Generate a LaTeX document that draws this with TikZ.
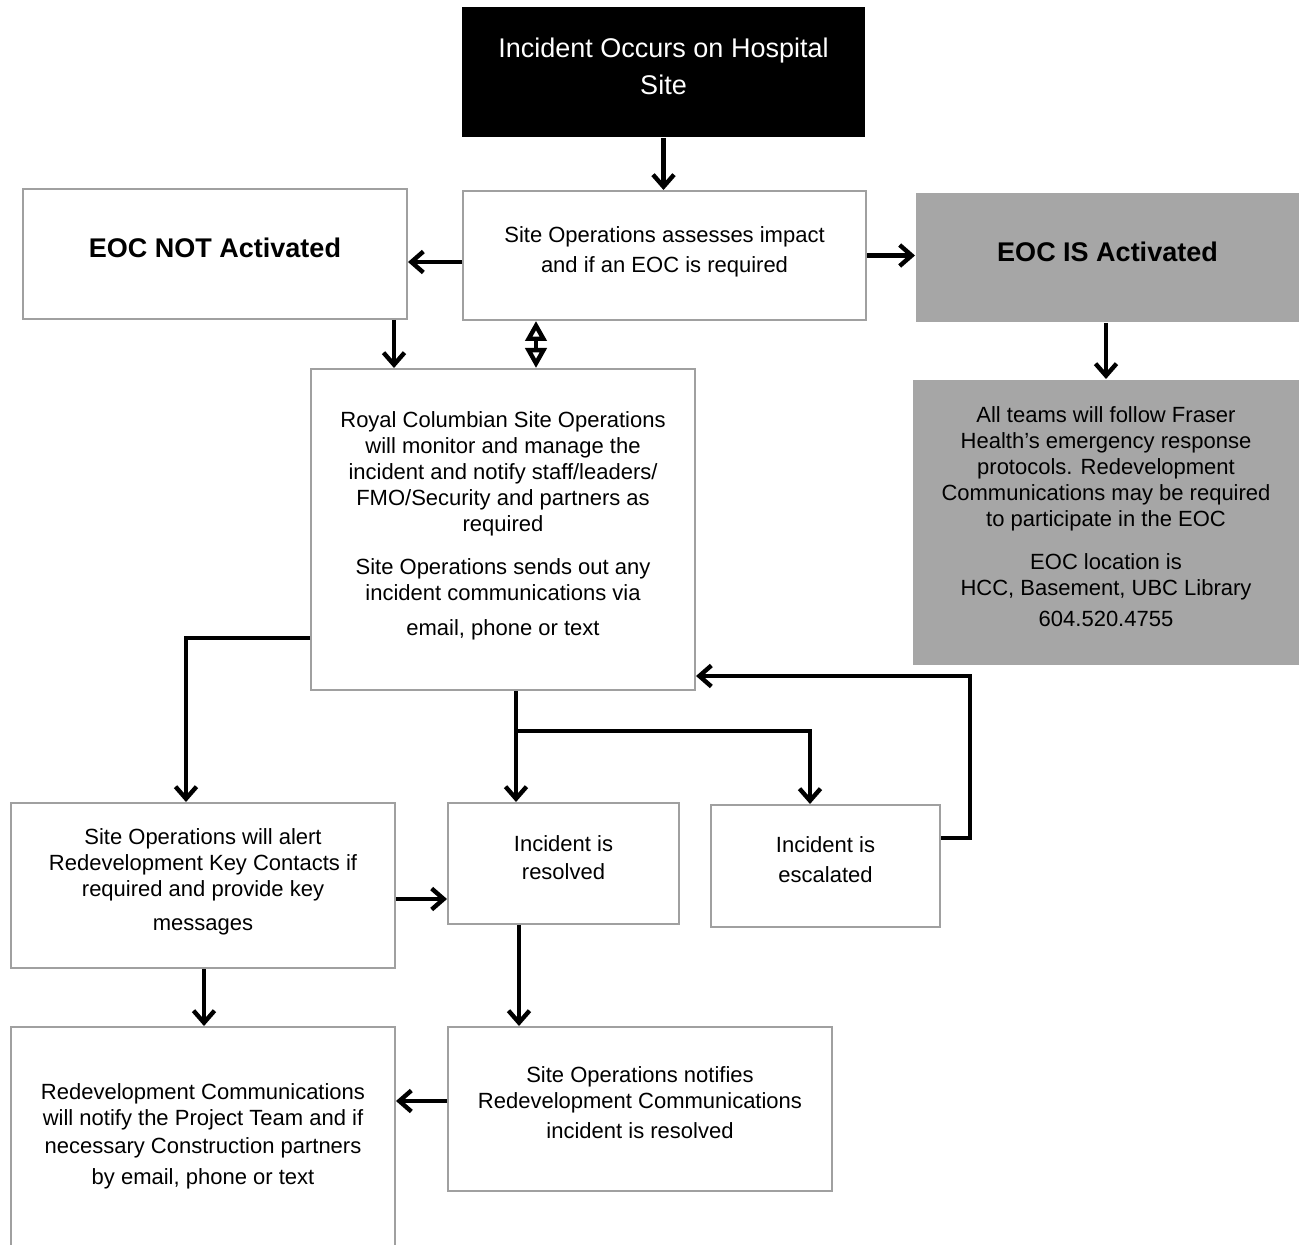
\documentclass[tikz,border=0pt]{standalone}
\usepackage{fontspec}
\setmainfont{Liberation Sans}
\usetikzlibrary{arrows.meta,positioning}

\definecolor{boxgray}{HTML}{A0A0A0}
\definecolor{eocgray}{HTML}{A6A6A6}

\begin{document}
\begin{tikzpicture}[x=0.5pt,y=-0.5pt,
  box/.style={draw=boxgray,line width=1pt,align=center,inner sep=0pt,text depth=6pt,
    font=\fontsize{11}{13}\selectfont},
  greybox/.style={box,draw=none,fill=eocgray},
  headbox/.style={box,font=\bfseries\fontsize{13.5}{16}\selectfont},
  arr/.style={line width=2.2pt,-{Straight Barb[length=6pt,width=10.5pt]}},
  dblarr/.style={line width=2.2pt,{Triangle[open,length=10pt,width=10.5pt]}-{Triangle[open,length=10pt,width=10.5pt]}}]
  \useasboundingbox (0,0) rectangle (1299,1245);

  % top row
  \node[box,draw=none,fill=black,text=white,minimum width=201.5pt,minimum height=65pt,
    font=\fontsize{13.5}{18.5}\selectfont] (start) at (663.5,72)
    {Incident Occurs on Hospital\\Site};
  \node[box,minimum width=201.5pt,minimum height=64.5pt] (assess) at (664.5,255.5)
    {Site Operations assesses impact\\[2pt]and if an EOC is required};
  \node[headbox,minimum width=192pt,minimum height=65pt] (notact) at (215,254)
    {EOC NOT Activated};
  \node[headbox,draw=none,fill=eocgray,minimum width=191.5pt,minimum height=64.5pt] (isact) at (1107.5,257.5)
    {EOC IS Activated};

  % middle
  \node[greybox,minimum width=193pt,minimum height=142.5pt] (eocinfo) at (1106,522.5)
    {All teams will follow Fraser\\Health’s emergency response\\protocols. Redevelopment\\
     Communications may be required\\to participate in the EOC\\[8.5pt]
     EOC location is\\HCC, Basement, UBC Library\\[2.5pt]604.520.4755};
  \node[box,minimum width=192pt,minimum height=160.5pt] (royal) at (503,529.5)
    {Royal Columbian Site Operations\\will monitor and manage the\\incident and notify staff/leaders/\\
     FMO/Security and partners as\\required\\[8.5pt]
     Site Operations sends out any\\incident communications via\\[4.5pt]email, phone or text};

  % lower rows
  \node[box,minimum width=192pt,minimum height=82.5pt] (alert) at (203,885.5)
    {Site Operations will alert\\Redevelopment Key Contacts if\\required and provide key\\[4pt]messages};
  \node[box,minimum width=115.5pt,minimum height=60.5pt] (resolved) at (563.5,863.5)
    {Incident is\\[1pt]resolved};
  \node[box,minimum width=114.5pt,minimum height=61pt] (escal) at (825.5,866)
    {Incident is\\[2pt]escalated};
  \node[box,minimum width=192pt,minimum height=113pt] (redevcomm) at (203,1140)
    {Redevelopment Communications\\will notify the Project Team and if\\[1pt]
     necessary Construction partners\\[2.5pt]by email, phone or text};
  \node[box,minimum width=192pt,minimum height=82pt] (notifies) at (640,1109)
    {Site Operations notifies\\Redevelopment Communications\\[2pt]incident is resolved};

  \coordinate (branch) at (516,731);

  % connectors
  \draw[arr] (start.south) -- (start.south |- assess.north);
  \draw[arr] (assess.west |- 0,262) -- (notact.east |- 0,262);
  \draw[arr] (assess.east) -- (isact.west |- assess.east);
  \draw[arr] (isact.south -| 1106,0) -- (eocinfo.north);
  \draw[arr] (notact.south -| 394,0) -- (royal.north -| 394,0);
  \draw[dblarr] (assess.south -| 536,0) -- (royal.north -| 536,0);
  \draw[arr] (royal.west |- 0,638) -| (alert.north -| 186,0);
  \draw[arr] (royal.south -| branch) -- (resolved.north -| branch);
  \draw[arr] (branch) -| (escal.north -| 810,0);
  \draw[arr] (escal.east |- 0,838) -- (970,838) |- (royal.east |- 0,676);
  \draw[arr] (alert.east |- 0,899) -- (resolved.west |- 0,899);
  \draw[arr] (alert.south -| 204,0) -- (redevcomm.north -| 204,0);
  \draw[arr] (resolved.south -| 519,0) -- (notifies.north -| 519,0);
  \draw[arr] (notifies.west |- 0,1101) -- (redevcomm.east |- 0,1101);
\end{tikzpicture}
\end{document}
